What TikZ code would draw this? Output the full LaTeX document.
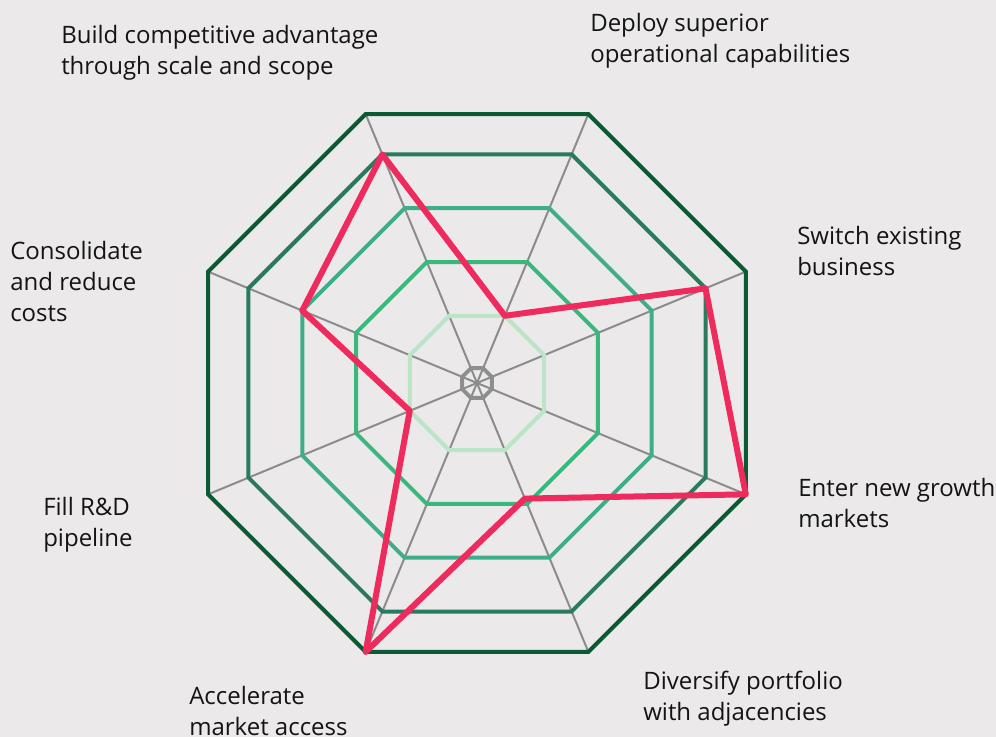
\documentclass[tikz,border=0pt]{standalone}
\usepackage{fontspec}
\setmainfont{Open Sans}
\usepackage{tikz}

\definecolor{bgcol}{HTML}{EBE9E9}
\definecolor{ringdark}{HTML}{0B5A34}
\definecolor{ringdeep}{HTML}{2A7B5E}
\definecolor{ringmid}{HTML}{3EAE8A}
\definecolor{ringgreen}{HTML}{38B87A}
\definecolor{ringpale}{HTML}{BCE4C6}
\definecolor{ringgray}{HTML}{8E8E8E}
\definecolor{spokegray}{HTML}{8C8C8C}
\definecolor{scorered}{HTML}{EF2A5C}
\definecolor{labeltext}{HTML}{141414}

\begin{document}
\begin{tikzpicture}[x=0.75pt,y=0.75pt,
    lbl/.style={anchor=north west,inner sep=0pt,align=left,text=labeltext,
                font=\fontsize{18}{23.25}\selectfont},
    ring/.style={line width=3pt,line join=miter},
    spoke/.style={draw=spokegray,line width=1.5pt},
    score/.style={draw=scorered,line width=4.5pt,line join=round}]

    \fill[bgcol] (-477,-354) rectangle (519,383);
    \useasboundingbox (-477,-354) rectangle (519,383);

    % spokes
    \foreach \a in {22.5,67.5,...,337.5}
        \draw[spoke] (0,0) -- (\a:291);

    % rings
    \foreach \lv/\col in {0.055/ringgray,0.25/ringpale,0.45/ringgreen,0.65/ringmid,0.85/ringdeep,1/ringdark}
        \draw[ring,draw=\col] (22.5:{\lv*291})
            \foreach \a in {67.5,112.5,...,337.5}{ -- (\a:{\lv*291})} -- cycle;

    % scores
    \coordinate (build)       at (112.5:{0.85*291});
    \coordinate (deploy)      at (67.5:{0.25*291});
    \coordinate (switch)      at (22.5:{0.85*291});
    \coordinate (enter)       at (-22.5:{1.0*291});
    \coordinate (diversify)   at (-67.5:{0.43*291});
    \coordinate (accelerate)  at (-112.5:{1.0*291});
    \coordinate (fill)        at (-157.5:{0.25*291});
    \coordinate (consolidate) at (157.5:{0.65*291});
    \draw[score] (build) -- (deploy) -- (switch) -- (enter) -- (diversify)
        -- (accelerate) -- (fill) -- (consolidate) -- cycle;

    % labels
    \node[lbl] (lbuild) at (-416,358) {Build competitive advantage\\through scale and scope};
    \node[lbl] (ldeploy) at (113,370) {Deploy superior\\operational capabilities};
    \node[lbl] (lswitch) at (320,157) {Switch existing\\business};
    \node[lbl] (lenter) at (321,-95) {Enter new growth\\markets};
    \node[lbl] (ldiversify) at (166,-288) {Diversify portfolio\\with adjacencies};
    \node[lbl] (laccelerate) at (-288,-303) {Accelerate\\market access};
    \node[lbl] (lfill) at (-434,-114) {Fill R\&D\\pipeline};
    \node[lbl] (lconsolidate) at (-467,142) {Consolidate\\and reduce\\costs};
\end{tikzpicture}
\end{document}
